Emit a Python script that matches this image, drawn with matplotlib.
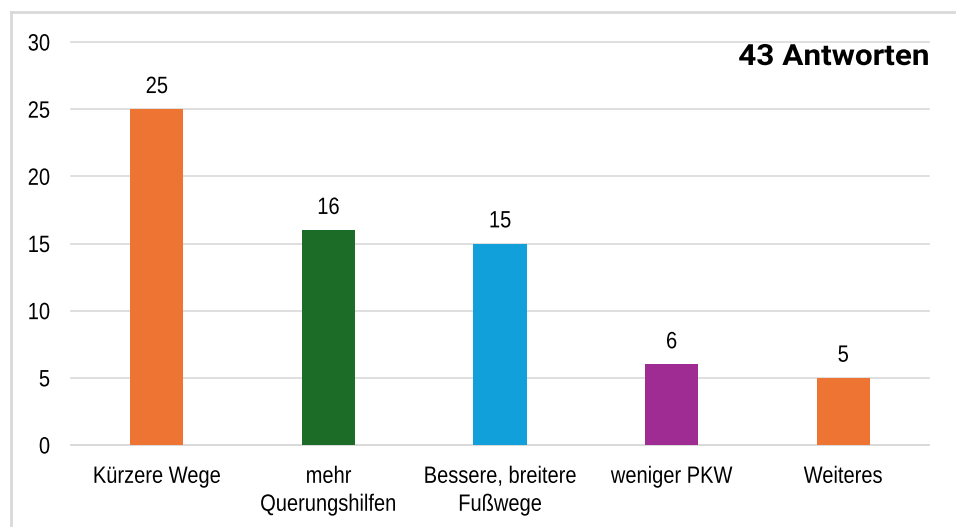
import matplotlib
matplotlib.use("Agg")
import matplotlib.pyplot as plt
from matplotlib.lines import Line2D
from matplotlib.patheffects import AbstractPathEffect
from matplotlib.transforms import Affine2D
import numpy as np

categories = ["Kürzere Wege", "mehr\nQuerungshilfen", "Bessere, breitere\nFußwege",
              "weniger PKW", "Weiteres"]
values = [25, 16, 15, 6, 5]
colors = ["#ED7433", "#1C6B27", "#11A0D9", "#9E2C92", "#ED7433"]
yticks = [0, 5, 10, 15, 20, 25, 30]
title = "43 Antworten"


class HScale(AbstractPathEffect):
    # squeeze/stretch text horizontally, like a narrow font
    def __init__(self, sx, anchor="center"):
        super().__init__()
        self.sx = sx
        self.anchor = anchor

    def draw_path(self, renderer, gc, tpath, affine, rgbFace=None):
        ext = tpath.get_extents()
        if self.anchor == "right":
            cx = ext.x1
        else:
            cx = (ext.x0 + ext.x1) / 2
        aff = Affine2D().translate(-cx, 0).scale(self.sx, 1).translate(cx, 0) + affine
        renderer.draw_path(gc, tpath, aff, rgbFace)


plt.rcParams["font.family"] = ["Liberation Sans", "DejaVu Sans"]

fig = plt.figure(figsize=(9.56, 5.27), dpi=100)
ax = fig.add_axes([0.0743, 0.1556, 0.8975, 0.7647])

x = np.arange(len(categories))
bars = ax.bar(x, values, width=0.31, color=colors, zorder=3)
for b, v in zip(bars, values):
    ax.text(b.get_x() + b.get_width() / 2, v + 1.2, str(v), ha="center", va="baseline",
            fontsize=17, color="#000000", path_effects=[HScale(0.85)])

ax.set_xlim(-0.5, len(categories) - 0.5)
ax.set_ylim(0, 30)
ax.set_yticks(yticks)
ax.set_xticks(x, categories)
ax.grid(axis="y", color="#d9d9d9", linewidth=1.2, zorder=0)
for gl in ax.get_ygridlines():
    gl.set_clip_on(False)
for s in ["top", "right", "left"]:
    ax.spines[s].set_visible(False)
ax.spines["bottom"].set_color("#d9d9d9")
ax.spines["bottom"].set_linewidth(1.2)
ax.tick_params(length=0, labelsize=17, colors="#000000")
ax.tick_params(axis="y", pad=15)
ax.tick_params(axis="x", pad=15)
for lbl in ax.get_xticklabels():
    lbl.set_linespacing(1.35)
    lbl.set_path_effects([HScale(0.85)])
for lbl in ax.get_yticklabels():
    lbl.set_path_effects([HScale(0.85, "right")])

ax.text(1.0, 0.943, title, transform=ax.transAxes, ha="right", va="baseline",
        fontsize=21, fontweight="bold", family=["Roboto", "DejaVu Sans"],
        path_effects=[HScale(1.08, "right")])

# frame lines (left and top) around the picture
fig.add_artist(Line2D([11 / 956, 11 / 956], [0, 1 - 12 / 527], color="#d9d9d9", linewidth=2))
fig.add_artist(Line2D([11 / 956, 1], [1 - 12 / 527, 1 - 12 / 527], color="#d9d9d9", linewidth=2))

fig.savefig("out.png", dpi=100)
